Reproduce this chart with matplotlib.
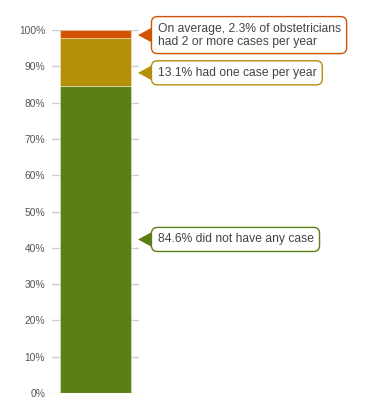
import numpy as np
import matplotlib
matplotlib.use("Agg")
import matplotlib.pyplot as plt
from matplotlib.patches import Polygon

plt.rcParams['font.family'] = ['Liberation Sans', 'DejaVu Sans']

# shares of obstetricians by cases per year (stacked bottom -> top)
segments = ["none", "one", "two_plus"]
shares = [84.6, 13.1, 2.3]
colors = ["#5b7e15", "#b48f09", "#d35400"]
labels = ["84.6% did not have any case",
          "13.1% had one case per year",
          "On average, 2.3% of obstetricians\nhad 2 or more cases per year"]
label_y = [42.3, 88.2, 98.6]
yticks = list(range(0, 101, 10))

W, H = 380, 400
fig = plt.figure(figsize=(W / 100, H / 100), dpi=100)
# axes in pixel layout: x 52..139, y 30..393
ax = fig.add_axes([52 / W, (H - 393) / H, 87 / W, 363 / H])
ax.set_xlim(52, 139)
ax.set_ylim(0, 100)

for y in yticks:
    ax.axhline(y, color="#cccccc", lw=1, zorder=0)

bottom = 0
for s, c in zip(shares, colors):
    ax.bar(95.5, s, width=71, bottom=bottom, color=c,
           edgecolor=(1, 1, 1, 0.35), linewidth=0.8, zorder=2)
    bottom += s

ax.set_yticks(yticks)
ax.set_yticklabels([f"{v}%" for v in yticks], fontsize=7.4, color="#555555")
ax.tick_params(axis="y", length=0, pad=5)
ax.set_xticks([])
for sp in ax.spines.values():
    sp.set_visible(False)

# callouts
px = 363 / 100.0  # pixels per percent
for txt, yv, c in zip(labels, label_y, colors):
    tri = Polygon([[138, yv], [151, yv + 7 / px], [151, yv - 7 / px]],
                  closed=True, facecolor=c, edgecolor="none",
                  clip_on=False, zorder=3)
    ax.add_patch(tri)
    ax.text(157.5, yv, txt, ha="left", va="center", fontsize=8.7,
            color="#444444", linespacing=1.1, zorder=4,
            bbox=dict(boxstyle="round,pad=0.5,rounding_size=0.5",
                      facecolor="white", edgecolor=c, linewidth=1))

fig.savefig("out.png", dpi=100)
